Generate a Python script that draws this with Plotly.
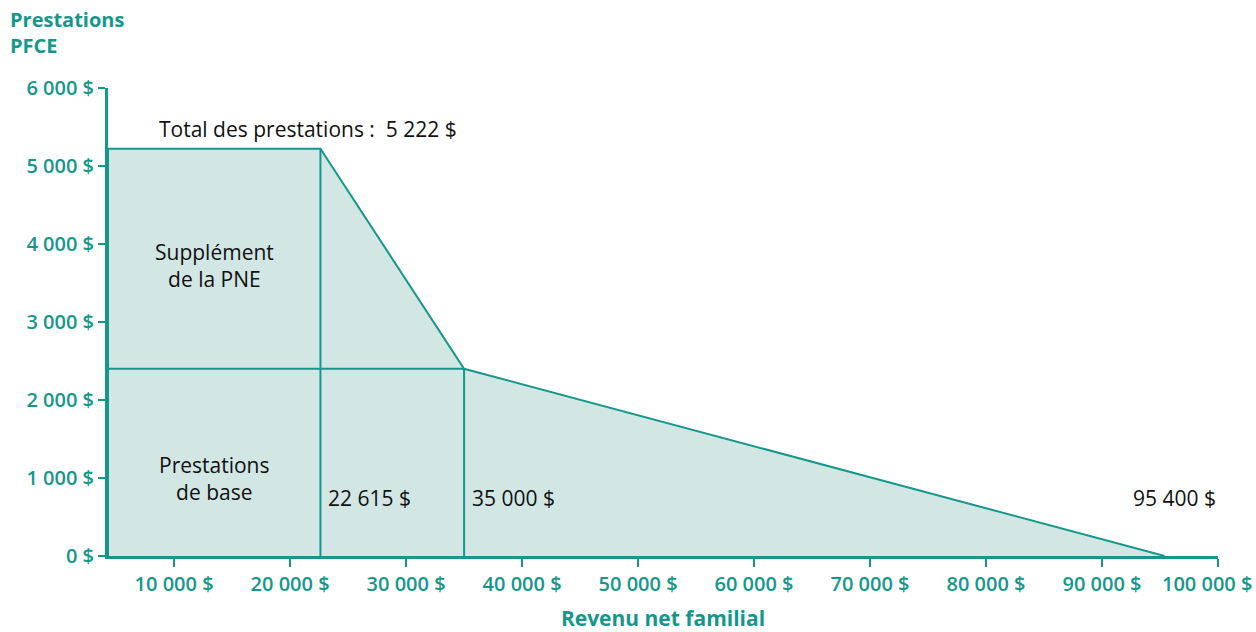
import plotly.graph_objects as go

# Seuils de revenu net familial et montants des prestations
revenu_min = 4300
revenu_max = 100000
seuil_supplement = 22615   # fin du plateau complet (PFCE + supplément PNE)
seuil_base = 35000         # fin de la réduction du supplément
seuil_fin = 95400          # fin des prestations de base
total_prestations = 5222
prestations_base = 2400

x_ticks = [10000, 20000, 30000, 40000, 50000, 60000, 70000, 80000, 90000, 100000]
x_tick_labels = ["10 000 $", "20 000 $", "30 000 $", "40 000 $", "50 000 $",
                 "60 000 $", "70 000 $", "80 000 $", "90 000 $", "100 000 $"]
y_ticks = [0, 1000, 2000, 3000, 4000, 5000, 6000]
y_tick_labels = ["0 $", "1 000 $", "2 000 $", "3 000 $", "4 000 $", "5 000 $", "6 000 $"]

TEAL = "#16978b"
FILL = "#d2e6e4"
FONT = "Open Sans"

contour_x = [revenu_min, revenu_min, seuil_supplement, seuil_base, seuil_fin]
contour_y = [0, total_prestations, total_prestations, prestations_base, 0]

fig = go.Figure()

# Surface totale des prestations
fig.add_trace(go.Scatter(
    x=contour_x, y=contour_y, mode="lines", fill="toself",
    fillcolor=FILL, line=dict(color=TEAL, width=2), hoverinfo="skip",
))
# Séparation prestations de base / supplément
fig.add_trace(go.Scatter(
    x=[revenu_min, seuil_base], y=[prestations_base, prestations_base],
    mode="lines", line=dict(color=TEAL, width=2), hoverinfo="skip",
))
# Lignes verticales aux seuils
fig.add_trace(go.Scatter(
    x=[seuil_supplement, seuil_supplement], y=[0, total_prestations],
    mode="lines", line=dict(color=TEAL, width=2), hoverinfo="skip",
))
fig.add_trace(go.Scatter(
    x=[seuil_base, seuil_base], y=[0, prestations_base],
    mode="lines", line=dict(color=TEAL, width=2), hoverinfo="skip",
))

txt = dict(family=FONT, size=21, color="#111111")
tick_font = dict(family=FONT, size=20, color=TEAL, weight=600)
x_mid = (revenu_min + seuil_supplement) / 2

annotations = [
    dict(x=seuil_supplement, y=total_prestations, xref="x", yref="y",
         text="Total des prestations :  5 222 $", showarrow=False,
         xanchor="center", yanchor="bottom", xshift=-12, yshift=4, font=txt),
    dict(x=x_mid, y=3720, text="Supplément<br>de la PNE", showarrow=False,
         font=txt, xanchor="center", yanchor="middle"),
    dict(x=x_mid, y=990, text="Prestations<br>de base", showarrow=False,
         font=txt, xanchor="center", yanchor="middle"),
    dict(x=seuil_supplement, y=750, text="22 615 $", showarrow=False,
         font=txt, xanchor="left", yanchor="middle", xshift=6),
    dict(x=seuil_base, y=750, text="35 000 $", showarrow=False,
         font=txt, xanchor="left", yanchor="middle", xshift=6),
    dict(x=revenu_max, y=750, text="95 400 $", showarrow=False,
         font=txt, xanchor="right", yanchor="middle"),
    # dernière étiquette de l'axe x, recentrée pour rester dans la page
    dict(x=revenu_max, y=0, xref="x", yref="paper", text=x_tick_labels[-1],
         showarrow=False, xanchor="right", yanchor="top", xshift=36, yshift=-12,
         font=tick_font),
    dict(x=-0.09, y=1.18, xref="paper", yref="paper", xanchor="left", yanchor="top",
         text="Prestations<br>PFCE", showarrow=False, align="left",
         font=dict(family=FONT, size=20, color=TEAL, weight="bold")),
]

fig.update_layout(
    width=1256, height=632,
    margin=dict(l=108, r=38, t=88, b=76),
    paper_bgcolor="white", plot_bgcolor="white",
    showlegend=False,
    annotations=annotations,
    xaxis=dict(
        range=[revenu_min, revenu_max], tickvals=x_ticks,
        ticktext=x_tick_labels[:-1] + [""], automargin=False,
        showgrid=False, zeroline=False, showline=True, linecolor=TEAL, linewidth=3,
        ticks="outside", ticklen=8, tickcolor=TEAL, tickwidth=1.5,
        tickfont=tick_font,
        title=dict(text="Revenu net familial", standoff=22,
                   font=dict(family=FONT, size=21, color=TEAL, weight="bold")),
    ),
    yaxis=dict(
        range=[0, 6000], tickvals=y_ticks, ticktext=y_tick_labels, automargin=False,
        showgrid=False, zeroline=False, showline=True, linecolor=TEAL, linewidth=3,
        ticks="outside", ticklen=7, tickcolor=TEAL, tickwidth=1.5,
        tickfont=tick_font,
    ),
)

fig.write_html("out.html")
